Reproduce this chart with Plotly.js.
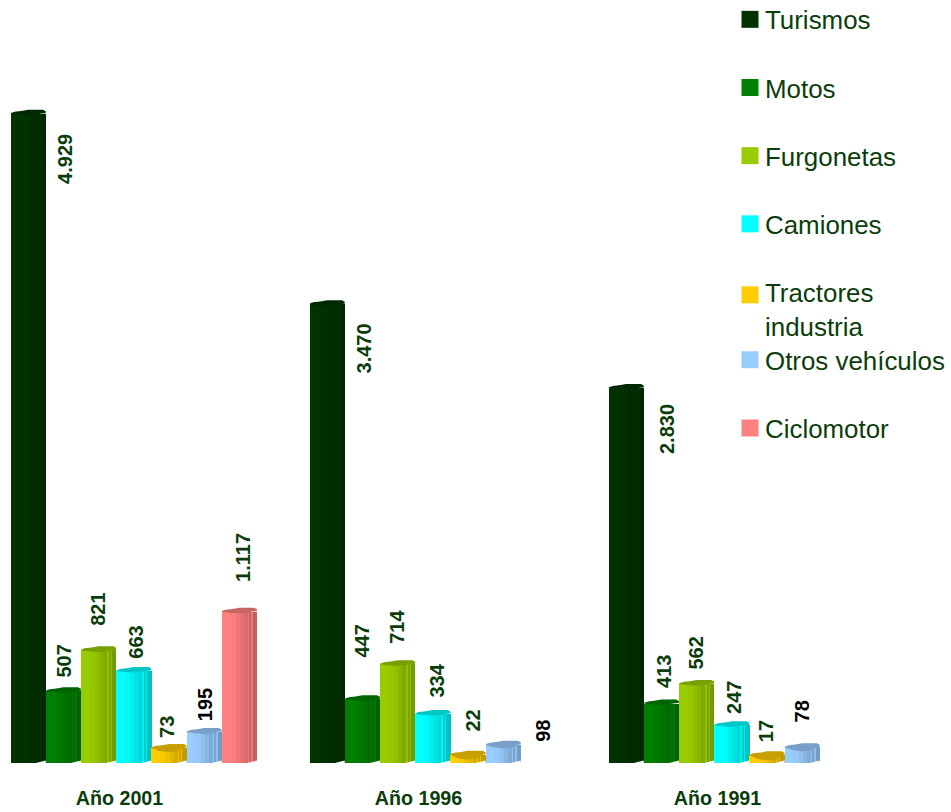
<!DOCTYPE html>
<html><head><meta charset="utf-8">
<script src="https://cdn.plot.ly/plotly-3.0.1.min.js"></script>
<style>html,body{margin:0;padding:0;background:#fff}</style></head>
<body><div id="chart" style="width:951px;height:812px"></div>
<script>
// ---- data ----
const years = ['Año 2001', 'Año 1996', 'Año 1991'];
const seriesNames = ['Turismos', 'Motos', 'Furgonetas', 'Camiones', 'Tractores<br>industria', 'Otros vehículos', 'Ciclomotor'];
const turismos = [4929, 3470, 2830];
const motos = [507, 447, 413];
const furgonetas = [821, 714, 562];
const camiones = [663, 334, 247];
const tractores = [73, 22, 17];
const otros = [195, 98, 78];
const ciclomotor = [1117, null, null];
const seriesValues = [turismos, motos, furgonetas, camiones, tractores, otros, ciclomotor];
const seriesColors = ['#003300', '#008000', '#99CC00', '#00FFFF', '#FFCC00', '#99CCFF', '#FF8080'];

// ---- label offsets in px relative to bar top (right, down) ----
const labelOffsets = [
  [[37, 45], [37, 44], [41, 41]],
  [[1, -30], [0, -58], [2, -32]],
  [[0, -41], [0, -37], [0, -31]],
  [[2, -29], [4, -33], [3, -28]],
  [[-2, -21], [5, -34], [-1, -24]],
  [[1, -27], [40, -14], [0, -36]],
  [[3, -54], null, null]
];

// ---- geometry ----
const W = 951, H = 812, plotH = 763;
const groupPx = 299, slotPx = 35.2, originPx = 10.5;
const pxPerUnit = 0.1306;
const floor = -42;               // the bars' 3D foot sits a little below zero
const slot = slotPx / groupPx;
const groups = years.map((_, i) => i);
const yTop = plotH / pxPerUnit + floor;
const strips = [
  [0, .25, 1], [.25, .40, .98], [.40, .52, .94], [.52, .64, .89], [.64, .76, .84],
  [.76, .785, .95], [.785, .86, .80], [.86, .885, .93], [.885, 1, .76]
];
const shade = (hex, k) => {
  const n = parseInt(hex.slice(1), 16);
  return 'rgb(' + [n >> 16 & 255, n >> 8 & 255, n & 255].map(c => Math.round(c * k)).join(',') + ')';
};
const fmt = v => String(v).replace(/\B(?=(\d{3})+$)/g, '.');

const traces = [], shapes = [], annotations = [];
seriesValues.forEach((vals, s) => {
  strips.forEach(([a, b, k], si) => {
    traces.push({
      type: 'bar', name: seriesNames[s], x: groups,
      y: vals.map(v => v === null ? null : v - floor), base: floor,
      width: (b - a) * slot + 0.0008, offset: (s + a) * slot,
      marker: {color: shade(seriesColors[s], k), line: {width: 0}},
      showlegend: si === 0, legendgroup: 'g' + s,
      legend: s >= 5 ? 'legend2' : 'legend',
      hoverinfo: 'skip'
    });
  });
  vals.forEach((v, g) => {
    if (v === null) return;
    const X = f => (g + (s + f) * slot).toFixed(4);
    const Y = d => (v - d / pxPerUnit).toFixed(1);   // d = px below the value level
    const F = d => (floor + d / pxPerUnit).toFixed(1); // d = px above the foot
    const dip = Math.max(1.5, 5 - v / 60);             // short bars show more of their top
    shapes.push({
      type: 'path', xref: 'x', yref: 'y', layer: 'above', line: {width: 0},
      fillcolor: shade(seriesColors[s], 0.78),
      path: `M${X(0)},${Y(0)} Q${X(.03)},${Y(-2)} ${X(.25)},${Y(-2.5)} Q${X(.4)},${Y(-3.2)} ${X(.5)},${Y(-4)} L${X(.92)},${Y(-4)} L${X(1)},${Y(-2.5)} L${X(1)},${Y(-.5)} Q${X(.9)},${Y(-.5)} ${X(.76)},${Y(dip - 1)} Q${X(.6)},${Y(dip + .5)} ${X(.42)},${Y(dip)} Q${X(.2)},${Y(dip - .5)} ${X(0)},${Y(0)} Z`
    });
    // white notch below the receding side of the foot
    shapes.push({
      type: 'path', xref: 'x', yref: 'y', layer: 'above', line: {width: 0}, fillcolor: '#ffffff',
      path: `M${X(.72)},${F(0)} L${X(1.002)},${F(2.5)} L${X(1.002)},${F(-.5)} L${X(.72)},${F(-.5)} Z`
    });
    const off = labelOffsets[s][g];
    annotations.push({
      xref: 'x', yref: 'y', x: g + (s + .5) * slot, y: v,
      xshift: off[0], yshift: -off[1], yanchor: 'middle', xanchor: 'center',
      text: '<b>' + fmt(v) + '</b>', textangle: -90, showarrow: false,
      font: {family: 'Liberation Sans, Arial, sans-serif', size: 20, color: s === 5 ? '#000000' : '#0b3d0b'}
    });
  });
});

const legendBase = {
  bgcolor: 'rgba(0,0,0,0)', borderwidth: 0, xanchor: 'left', yanchor: 'top',
  traceorder: 'grouped', tracegroupgap: 31.5, itemclick: false, itemdoubleclick: false,
  font: {family: 'Liberation Sans, Arial, sans-serif', size: 25.9, color: '#0b3d0b'}
};
const layout = {
  width: W, height: H, showlegend: true, barmode: 'overlay', bargap: 0,
  paper_bgcolor: '#fff', plot_bgcolor: '#fff',
  margin: {l: 0, r: 0, t: 0, b: H - plotH, pad: 0},
  xaxis: {
    range: [-originPx / groupPx, (W - originPx) / groupPx], showgrid: false, zeroline: false, showline: false,
    tickvals: groups.map(g => g + 109 / groupPx), ticktext: years,
    ticks: 'outside', ticklen: 17, tickcolor: 'rgba(0,0,0,0)', tickangle: 0,
    tickfont: {family: 'Liberation Sans, Arial, sans-serif', size: 19.7, color: '#0b3d0b', weight: 700},
    fixedrange: true
  },
  yaxis: {range: [floor, yTop], visible: false, fixedrange: true},
  legend: Object.assign({}, legendBase, {x: 725 / W, y: 1}),
  legend2: Object.assign({}, legendBase, {x: 725 / W, y: 1 - 336.5 / plotH}),
  shapes, annotations
};
const fixLegend = () => {
  // the reference's swatches are 17px squares, a little right of Plotly's default spot;
  // the two-line entry has its swatch beside the first line
  document.querySelectorAll('.legendpoints path').forEach(p => {
    const two = p.closest('.traces').querySelector('text').textContent.startsWith('Tractores');
    p.setAttribute('d', two ? 'M13.5,-5.5H-3.5V-22.5H13.5Z' : 'M13.5,8.5H-3.5V-8.5H13.5Z');
  });
  // Plotly clamps a legend to the top of the paper; the first item sits higher here
  const lg = document.querySelector('g.legend');
  if (lg && !lg.dataset.moved) {
    const t = lg.getAttribute('transform').match(/translate\(([-\d.]+),\s*([-\d.]+)\)/);
    lg.setAttribute('transform', `translate(${t[1]},${+t[2] - 4})`);
    lg.dataset.moved = '1';
  }
};
Plotly.newPlot('chart', traces, layout, {displayModeBar: false}).then(() => {
  fixLegend();
  requestAnimationFrame(fixLegend);
});
</script></body></html>
